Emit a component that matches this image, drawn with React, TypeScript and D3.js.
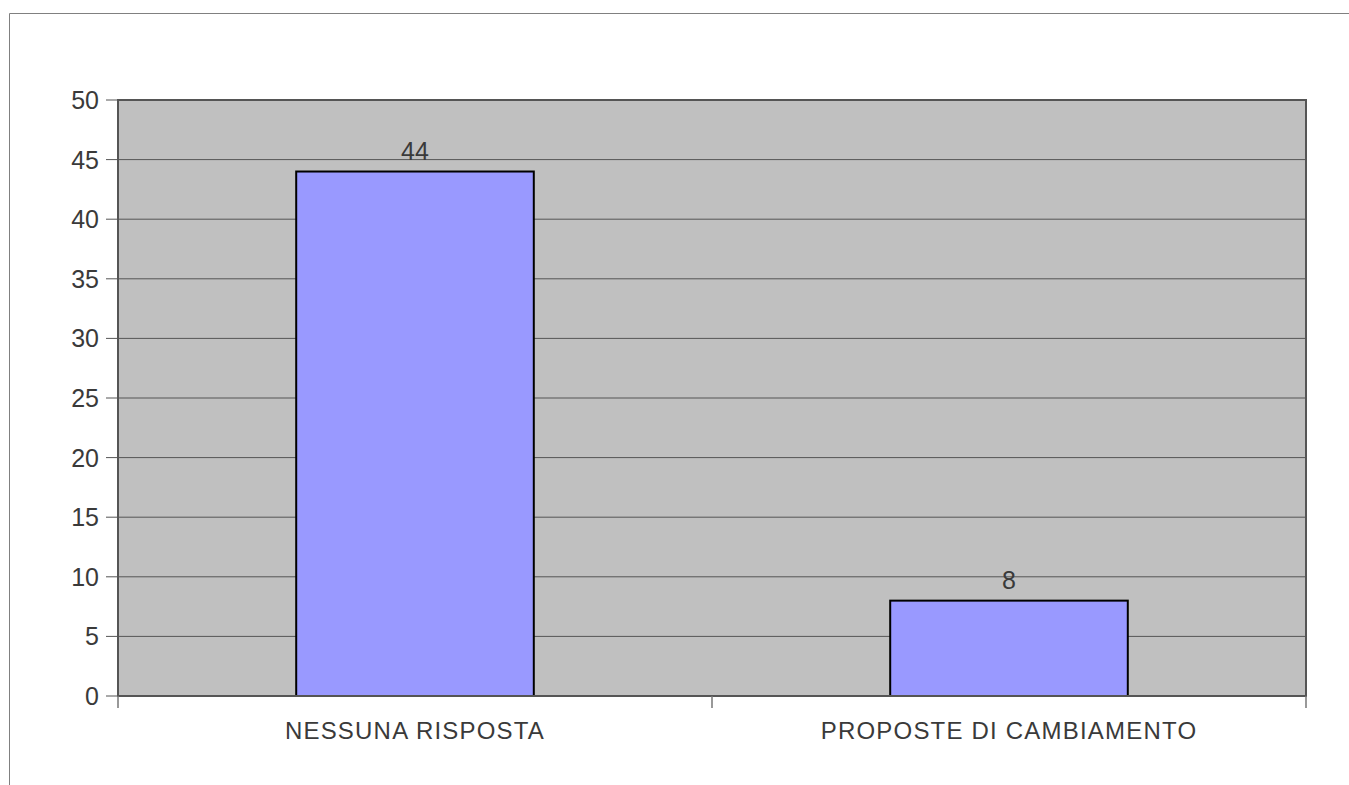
import * as d3 from "d3";

const categories = ["NESSUNA RISPOSTA", "PROPOSTE DI CAMBIAMENTO"];
const values = [44, 8];
const yTicks = [0, 5, 10, 15, 20, 25, 30, 35, 40, 45, 50];

const W = 1349, H = 785;
const m = { left: 118, right: 1306, top: 100, bottom: 696 };

export default function App() {
  const x = d3.scaleBand<string>().domain(categories).range([m.left, m.right]);
  const y = d3.scaleLinear().domain([0, 50]).range([m.bottom, m.top]);
  const bw = x.bandwidth() * 0.4;
  const font = "'Liberation Sans', Arial, sans-serif";

  return (
    <svg width={W} height={H} style={{ position: "absolute", left: 0, top: 0 }} fontFamily={font}>
      <rect x={0} y={0} width={W} height={H} fill="#fff" />
      <path d={`M9.5,${H} V13.5 H${W}`} fill="none" stroke="#808080" strokeWidth={1} />
      <rect x={m.left} y={m.top} width={m.right - m.left} height={m.bottom - m.top} fill="#c0c0c0" />
      {yTicks.map((t) => (
        <g key={t}>
          <line x1={m.left} x2={m.right} y1={y(t)} y2={y(t)} stroke="#555" strokeWidth={1} />
          <line x1={106} x2={m.left} y1={y(t)} y2={y(t)} stroke="#555" strokeWidth={1} />
          <text x={99} y={y(t)} dy="0.36em" textAnchor="end" fontSize={25} fill="#3a3a3a">{t}</text>
        </g>
      ))}
      {categories.map((c, i) => {
        const cx = x(c)! + x.bandwidth() / 2;
        return (
          <g key={c}>
            <rect x={cx - bw / 2} y={y(values[i])} width={bw} height={y(0) - y(values[i])}
              fill="#9999ff" stroke="#000" strokeWidth={2} />
            <text x={cx} y={y(values[i]) - 12} textAnchor="middle" fontSize={25} fill="#3a3a3a">{values[i]}</text>
            <text x={cx} y={739} textAnchor="middle" fontSize={24} letterSpacing={1.2} fill="#3a3a3a">{c}</text>
          </g>
        );
      })}
      <rect x={m.left} y={m.top} width={m.right - m.left} height={m.bottom - m.top} fill="none" stroke="#555" strokeWidth={2} />
      {[m.left, m.left + x.step(), m.right].map((px) => (
        <line key={px} x1={px} x2={px} y1={m.bottom} y2={708} stroke="#777" strokeWidth={1.5} />
      ))}
    </svg>
  );
}
